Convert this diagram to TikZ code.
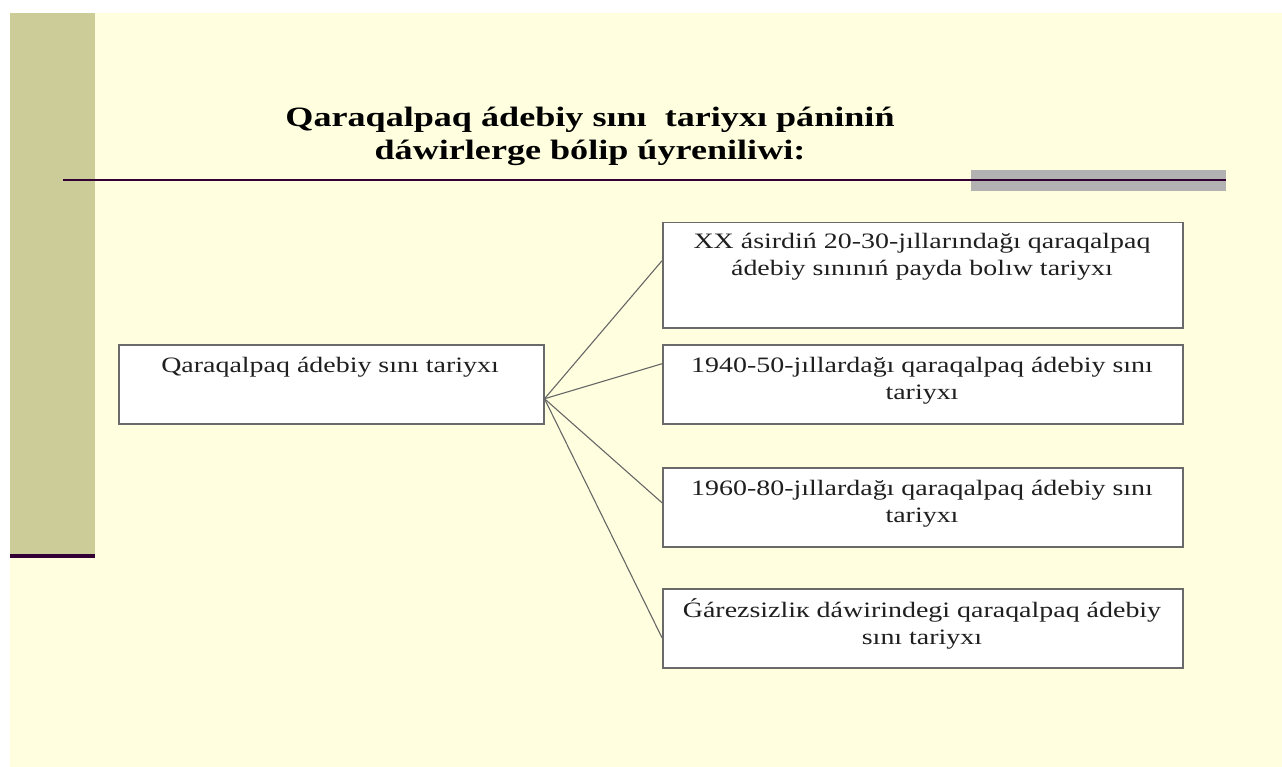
\documentclass[tikz,border=0pt]{standalone}
\usepackage{fontspec}
\setmainfont{Liberation Serif}
\definecolor{slidebg}{HTML}{FFFFE0}
\definecolor{strip}{HTML}{CCCC99}
\definecolor{darkpurp}{HTML}{330033}
\definecolor{graybar}{HTML}{B2B2B2}
\definecolor{boxline}{HTML}{6A6A6A}
\newcommand{\wideline}[1]{\scalebox{1.27}[1]{#1}}
\newcommand{\widetitle}[1]{\scalebox{1.29}[1]{#1}}
\tikzset{
  box/.style={draw=boxline, line width=1.5pt, fill=white, inner sep=0pt, anchor=north west},
  txt/.style={align=center, font=\fontsize{22}{27}\selectfont, text=black!88, inner sep=0pt},
  conn/.style={draw=black!60, line width=1.1pt}
}
\begin{document}
\begin{tikzpicture}[x=1pt,y=-1pt]
\useasboundingbox (0,0) rectangle (1282,767);
\fill[white] (0,0) rectangle (1282,767);
\fill[slidebg] (10,13) rectangle (1282,767);
\fill[strip] (10,13) rectangle (95,555);
\fill[darkpurp] (10,554) rectangle (95,558);
\fill[graybar] (971,170) rectangle (1226,191);
\draw[darkpurp, line width=1.6pt] (63,180) -- (1226,180);
\node[align=center, inner sep=0pt, font=\fontsize{28}{33}\selectfont\bfseries] (title) at (590,136)
  {\widetitle{Qaraqalpaq ádebiy sını\ \ tariyxı pániniń}\\\widetitle{dáwirlerge bólip úyreniliwi:}};
% main box
\node[box, minimum width=425pt, minimum height=79pt] (main) at (118,344) {};
\node[txt] (maint) at (330,367) {\wideline{Qaraqalpaq ádebiy sını tariyxı}};
% right boxes
\node[box, minimum width=520pt, minimum height=105pt] (b1) at (662,222) {};
\node[txt] (b1t) at (922,257) {\wideline{XX ásirdiń 20-30-jıllarındağı qaraqalpaq}\\\wideline{ádebiy sınınıń payda bolıw tariyxı}};
\node[box, minimum width=520pt, minimum height=79pt] (b2) at (662,344) {};
\node[txt] (b2t) at (922,381) {\wideline{1940-50-jıllardağı qaraqalpaq ádebiy sını}\\\wideline{tariyxı}};
\node[box, minimum width=520pt, minimum height=79pt] (b3) at (662,467) {};
\node[txt] (b3t) at (922,504) {\wideline{1960-80-jıllardağı qaraqalpaq ádebiy sını}\\\wideline{tariyxı}};
\node[box, minimum width=520pt, minimum height=79pt] (b4) at (662,588) {};
\node[txt] (b4t) at (922,624) {\wideline{Ǵárezsizliк dáwirindegi qaraqalpaq ádebiy}\\\wideline{sını tariyxı}};
% connectors
\coordinate (o) at ([yshift=-14.5pt]main.east);
\draw[conn] (o) -- ([yshift=14.5pt]b1.west);
\draw[conn] (o) -- ([yshift=20.5pt]b2.west);
\draw[conn] (o) -- ([yshift=4.5pt]b3.west);
\draw[conn] (o) -- ([yshift=-9.5pt]b4.west);
\end{tikzpicture}
\end{document}
